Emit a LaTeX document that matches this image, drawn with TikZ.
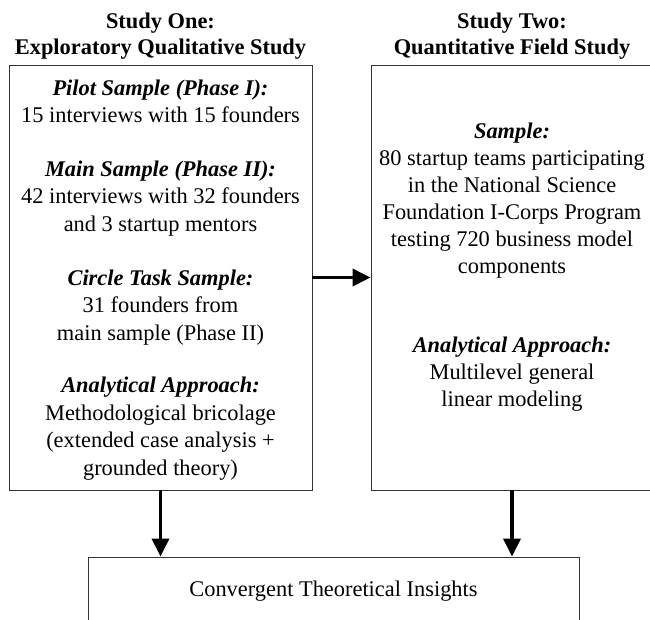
\documentclass[tikz,border=0pt]{standalone}
\usepackage{fontspec}
\setmainfont{Liberation Serif}
\usetikzlibrary{arrows.meta,positioning}

\begin{document}
\begin{tikzpicture}[x=1pt,y=-1pt,
	box/.style={draw=black!80, line width=0.9pt, inner sep=0pt},
	title/.style={font=\fontsize{22.4}{26}\selectfont\bfseries, align=center, inner sep=0pt},
	body/.style={font=\fontsize{22.4}{27.5}\selectfont, align=center, inner sep=0pt},
	flow/.style={line width=3.5pt, -{Triangle[length=18pt,width=17pt]}}]
		
		\clip (0,0) rectangle (650,619);
		
		%Study One
		\node[box, minimum width=303pt, minimum height=425pt] (one) at (160.5,277.5) {};
		\node[title, above=5.5pt of one] (onetitle) {Study One:\\Exploratory Qualitative Study};
		\node[body, anchor=north] (onetext) at (160.5,79.5) {%
			\textbf{\textit{Pilot Sample (Phase I):}}\\
			15 interviews with 15 founders\\[26pt]
			\textbf{\textit{Main Sample (Phase II):}}\\
			42 interviews with 32 founders\\
			and 3 startup mentors\\[26.5pt]
			\textbf{\textit{Circle Task Sample:}}\\
			31 founders from\\
			main sample (Phase II)\\[25pt]
			\textbf{\textit{Analytical Approach:}}\\
			Methodological bricolage\\
			(extended case analysis +\\
			grounded theory)};
		
		%Study Two
		\node[box, minimum width=282pt, minimum height=425pt] (two) at (512,277.5) {};
		\node[title, above=5.5pt of two] (twotitle) {Study Two:\\Quantitative Field Study};
		\node[body, anchor=north, font=\fontsize{22.4}{27}\selectfont] (twotext) at (512,123) {%
			\textbf{\textit{Sample:}}\\
			80 startup teams participating\\
			in the National Science\\
			Foundation I-Corps Program\\
			testing 720 business model\\
			components\\[52pt]
			\textbf{\textit{Analytical Approach:}}\\
			Multilevel general\\
			linear modeling};
		
		%Insights
		\node[box, minimum width=491pt, minimum height=70pt] (insights) at (333.5,592) {};
		\node[body] (insightstext) at (333.5,591) {Convergent Theoretical Insights};
		
		%Arrows
		\draw[flow] (one.east) -- (two.west);
		\draw[flow] (one.south) -- (one.south |- insights.north);
		\draw[flow] (two.south) -- (two.south |- insights.north);
		
\end{tikzpicture}
\end{document}
